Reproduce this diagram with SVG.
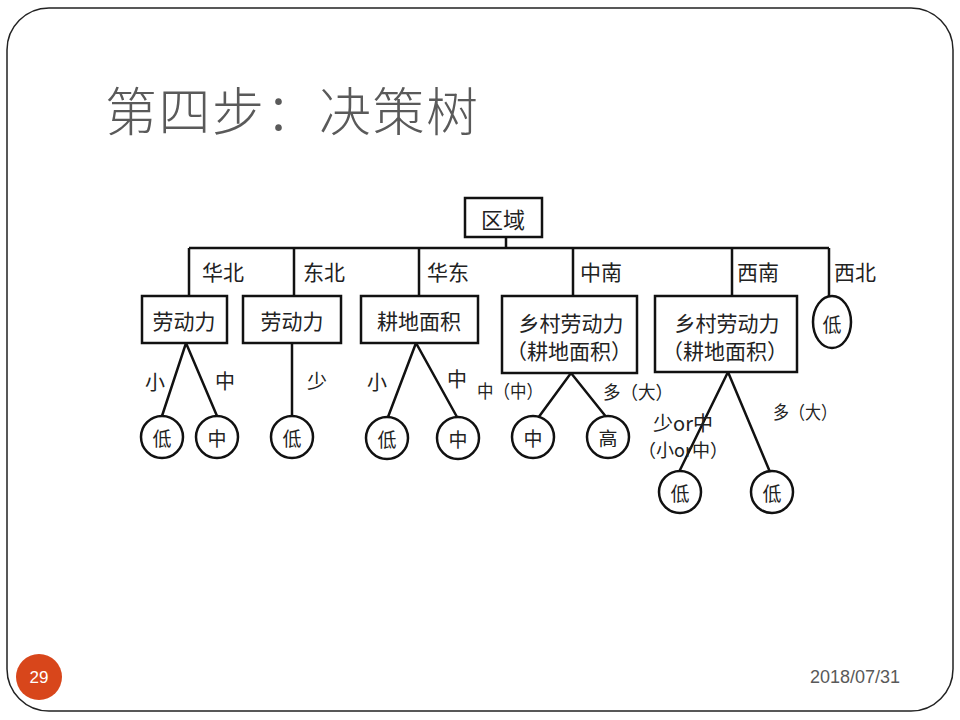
<svg xmlns="http://www.w3.org/2000/svg" width="960" height="720" viewBox="0 0 960 720">
<style>
.t{font-family:"Noto Sans CJK SC","Liberation Sans",sans-serif;fill:#222;text-anchor:middle;dominant-baseline:central}
.box{fill:#fff;stroke:#111;stroke-width:2.5}
.leaf{fill:#fff;stroke:#111;stroke-width:2.5}
.ln{fill:none;stroke:#111;stroke-width:2.5}
</style>
<rect width="960" height="720" fill="#fff"/>
<rect x="7" y="8" width="946" height="703" rx="42" fill="#fff" stroke="#222" stroke-width="1.5"/>
<text x="105" y="131" font-family="'Noto Sans CJK SC','Liberation Sans',sans-serif" font-size="52" font-weight="300" fill="#5a5a5a" textLength="373" lengthAdjust="spacing">第四步：决策树</text>

<g id="connectors">
<path class="ln" d="M506 237V248M189 248H829M189 248V296M294 248V296M419 248V296M573 248V296M732 248V296M829 248V296"/>
<path class="ln" d="M162 416L186 343L217 416"/>
<path class="ln" d="M292 343V416"/>
<path class="ln" d="M388 417L416 343L457 417"/>
<path class="ln" d="M538 418L571 373L607 418"/>
<path class="ln" d="M679 472L728 372L770 472"/>
</g>

<g id="edge-labels">
<text class="t" x="223" y="271" font-size="21">华北</text>
<text class="t" x="324" y="271" font-size="21">东北</text>
<text class="t" x="448" y="271" font-size="21">华东</text>
<text class="t" x="601" y="271" font-size="21">中南</text>
<text class="t" x="758" y="271" font-size="21">西南</text>
<text class="t" x="855" y="271" font-size="21">西北</text>
<text class="t" x="155" y="381" font-size="20">小</text>
<text class="t" x="225" y="380" font-size="20">中</text>
<text class="t" x="317" y="380" font-size="20">少</text>
<text class="t" x="377" y="381" font-size="20">小</text>
<text class="t" x="457" y="378" font-size="20">中</text>
<text class="t" x="510" y="390" font-size="18" textLength="66" lengthAdjust="spacingAndGlyphs">中（中）</text>
<text class="t" x="638" y="391" font-size="18" textLength="70" lengthAdjust="spacingAndGlyphs">多（大）</text>
<text class="t" x="683" y="422" font-size="20">少or中</text>
<text class="t" x="683" y="449" font-size="18" textLength="90" lengthAdjust="spacingAndGlyphs">（小or中）</text>
<text class="t" x="805" y="411" font-size="18" textLength="64" lengthAdjust="spacingAndGlyphs">多（大）</text>
</g>

<g id="root"><rect class="box" x="465" y="198" width="77" height="39"/><text class="t" x="503" y="218" font-size="22">区域</text></g>
<g id="n-huabei"><rect class="box" x="142" y="296" width="85" height="47"/><text class="t" x="184" y="320" font-size="21">劳动力</text></g>
<g id="n-dongbei"><rect class="box" x="243" y="296" width="98" height="47"/><text class="t" x="292" y="320" font-size="21">劳动力</text></g>
<g id="n-huadong"><rect class="box" x="361" y="296" width="117" height="47"/><text class="t" x="419" y="320" font-size="21">耕地面积</text></g>
<g id="n-zhongnan"><rect class="box" x="502" y="296" width="135" height="77"/><text class="t" x="571" y="322" font-size="21">乡村劳动力</text><text class="t" x="569" y="350" font-size="21">（耕地面积）</text></g>
<g id="n-xinan"><rect class="box" x="655" y="296" width="142" height="76"/><text class="t" x="727" y="322" font-size="21">乡村劳动力</text><text class="t" x="725" y="350" font-size="21">（耕地面积）</text></g>
<g id="n-xibei"><ellipse class="leaf" cx="832" cy="322" rx="19" ry="26"/><text class="t" x="832" y="323" font-size="19">低</text></g>

<g id="l1"><circle class="leaf" cx="162" cy="437" r="21"/><text class="t" x="162" y="437" font-size="19">低</text></g>
<g id="l2"><circle class="leaf" cx="217" cy="437" r="21"/><text class="t" x="217" y="437" font-size="19">中</text></g>
<g id="l3"><circle class="leaf" cx="292" cy="437" r="21"/><text class="t" x="292" y="437" font-size="19">低</text></g>
<g id="l4"><circle class="leaf" cx="387" cy="438" r="21"/><text class="t" x="387" y="438" font-size="19">低</text></g>
<g id="l5"><circle class="leaf" cx="458" cy="438" r="21"/><text class="t" x="458" y="438" font-size="19">中</text></g>
<g id="l6"><circle class="leaf" cx="533" cy="437" r="21"/><text class="t" x="533" y="437" font-size="19">中</text></g>
<g id="l7"><circle class="leaf" cx="608" cy="437" r="21"/><text class="t" x="608" y="437" font-size="19">高</text></g>
<g id="l8"><circle class="leaf" cx="680" cy="492" r="21"/><text class="t" x="680" y="492" font-size="19">低</text></g>
<g id="l9"><circle class="leaf" cx="772" cy="492" r="21"/><text class="t" x="772" y="492" font-size="19">低</text></g>

<g id="footer">
<circle cx="39" cy="677" r="23" fill="#d8461b"/>
<text x="39" y="683" font-family="'Liberation Sans',sans-serif" font-size="17" fill="#fff" text-anchor="middle">29</text>
<text x="900" y="683" font-family="'Liberation Sans',sans-serif" font-size="18" fill="#595959" text-anchor="end">2018/07/31</text>
</g>
</svg>
